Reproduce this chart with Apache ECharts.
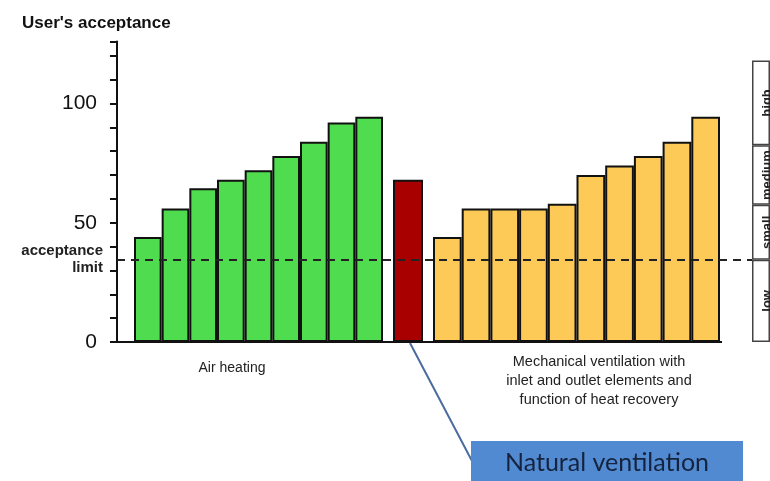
<!DOCTYPE html>
<html>
<head>
<meta charset="utf-8">
<script src="https://cdn.jsdelivr.net/npm/echarts@6/dist/echarts.min.js"></script>
<style>
  html, body { margin: 0; padding: 0; background: #fff; }
  #chart { width: 770px; height: 481px; }
</style>
</head>
<body>
<div id="chart"></div>
<script>
// values
const airHeating = [44, 56, 64.5, 68, 72, 78, 84, 92, 94.5];
const naturalVent = [68];
const mechVent = [44, 56, 56, 56, 58, 70, 74, 78, 84, 94.5];
const acceptanceLimit = 34.5;
const bandNames = ['low', 'small', 'medium', 'high'];
const bandBounds = [0, 34.5, 57.5, 82.5, 118];
const yMax = 126;

const chart = echarts.init(document.getElementById('chart'));
const FONT = 'Liberation Sans, Arial, sans-serif';

// common vertical placement: 0 at y=342, top at value 126
const gridTop = 41.5, gridBottom = 139;

function hiddenCat(gridIndex, n) {
  return {
    type: 'category', gridIndex: gridIndex,
    data: Array.from({ length: n }, (_, i) => i),
    axisLine: { show: true, lineStyle: { color: '#000', width: 2 } },
    axisTick: { show: false }, axisLabel: { show: false }
  };
}
function hiddenY(gridIndex) {
  return { type: 'value', gridIndex: gridIndex, min: 0, max: yMax, show: false };
}
function barSeries(idx, data, color) {
  return {
    type: 'bar', xAxisIndex: idx, yAxisIndex: idx, data: data,
    barWidth: '100%', barCategoryGap: 0,
    itemStyle: { color: color, borderColor: '#111', borderWidth: 2 }
  };
}

const bandSizes = bandNames.map((n, i) => bandBounds[i + 1] - bandBounds[i]);

chart.setOption({
  animation: false,
  title: {
    text: "User's acceptance", left: 17, top: 10,
    textStyle: { fontFamily: FONT, fontSize: 17, fontWeight: 'bold', color: '#111' }
  },
  grid: [
    { left: 117, width: 635, top: gridTop, bottom: gridBottom },
    { left: 134, width: 249, top: gridTop, bottom: gridBottom },
    { left: 393, width: 30, top: gridTop, bottom: gridBottom },
    { left: 433, width: 287, top: gridTop, bottom: gridBottom },
    { left: 752, width: 40, top: gridTop, bottom: gridBottom }
  ],
  xAxis: [
    { type: 'value', gridIndex: 0, min: 0, max: 635, show: false },
    hiddenCat(1, airHeating.length),
    hiddenCat(2, naturalVent.length),
    hiddenCat(3, mechVent.length),
    Object.assign(hiddenCat(4, 1), { axisLine: { show: false } })
  ],
  yAxis: [
    {
      type: 'value', gridIndex: 0, min: 0, max: yMax, interval: 10,
      axisLine: { show: true, lineStyle: { color: '#111', width: 2 } },
      axisTick: { show: true, length: 7, lineStyle: { color: '#111', width: 2 } },
      splitLine: { show: false },
      axisLabel: {
        margin: 20, fontFamily: FONT, fontSize: 21, color: '#111',
        formatter: v => (v % 50 === 0 ? String(v) : '')
      }
    },
    hiddenY(1), hiddenY(2), hiddenY(3), hiddenY(4)
  ],
  series: [
    {
      type: 'line', xAxisIndex: 0, yAxisIndex: 0, data: [],
      markLine: {
        symbol: 'none', silent: true,
        data: [
          {
            yAxis: acceptanceLimit,
            lineStyle: { color: '#222', type: [8, 6], width: 2 },
            label: {
              show: true, position: 'start', distance: 14,
              formatter: 'acceptance\nlimit', align: 'right',
              fontFamily: FONT, fontSize: 15, fontWeight: 'bold', color: '#222', lineHeight: 17
            }
          },
          [
            { coord: [0, 0], lineStyle: { color: '#111', type: 'solid', width: 2 }, label: { show: false } },
            { coord: [605, 0] }
          ]
        ]
      }
    },
    barSeries(1, airHeating, '#4fdd4f'),
    barSeries(2, naturalVent, '#a80000'),
    barSeries(3, mechVent, '#fdca57'),
    ...bandNames.map((name, i) => ({
      type: 'bar', name: name, xAxisIndex: 4, yAxisIndex: 4, stack: 'band',
      data: [bandSizes[i]], barWidth: '100%',
      itemStyle: { color: '#fff', borderColor: '#444', borderWidth: 1.5 },
      label: {
        show: true, position: 'inside', rotate: 90, formatter: name, offset: [0, 6],
        fontFamily: FONT, fontSize: 13, fontWeight: 'bold', color: '#222'
      }
    }))
  ],
  graphic: [
    {
      type: 'text', x: 232, y: 368,
      style: { text: 'Air heating', font: '14px ' + FONT, fill: '#222', align: 'center', verticalAlign: 'middle' }
    },
    {
      type: 'text', x: 599, y: 381,
      style: {
        text: 'Mechanical ventilation with\ninlet and outlet elements and\nfunction of heat recovery',
        font: '14.5px ' + FONT, fill: '#222', align: 'center', verticalAlign: 'middle', lineHeight: 19
      }
    },
    {
      type: 'line', shape: { x1: 410, y1: 343, x2: 472, y2: 461 },
      style: { stroke: '#4a6c9e', lineWidth: 2 }
    },
    {
      type: 'rect', shape: { x: 471, y: 441, width: 272, height: 45 },
      style: { fill: '#518ad0' }
    },
    {
      type: 'text', x: 607, y: 463,
      style: {
        text: 'Natural ventilation', font: '25px Lato, "Noto Sans", sans-serif',
        fill: '#15233f', align: 'center', verticalAlign: 'middle'
      }
    }
  ]
});
</script>
</body>
</html>
